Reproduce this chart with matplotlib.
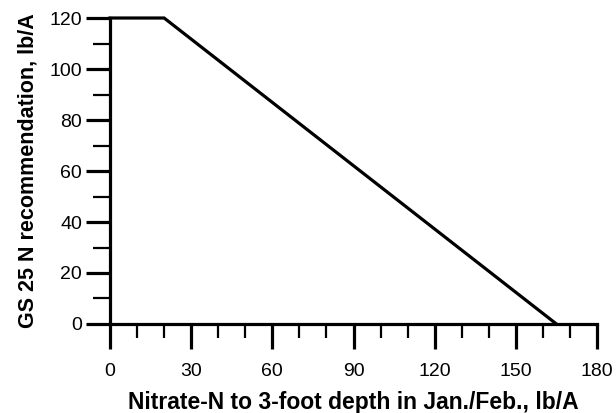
import matplotlib.pyplot as plt
from matplotlib.ticker import MultipleLocator

# Data: N recommendation vs soil nitrate
nitrate = [0, 20, 165]
rec = [120, 120, 0]

plt.rcParams['font.family'] = ['Liberation Sans', 'DejaVu Sans']

fig = plt.figure(figsize=(6.16, 4.13), dpi=100)
ax = fig.add_axes([0.1786, 0.2155, 0.7906, 0.7409])

ax.plot(nitrate, rec, color='black', lw=2.3, clip_on=False, solid_joinstyle='miter')

ax.set_xlim(0, 180)
ax.set_ylim(0, 120)
ax.xaxis.set_major_locator(MultipleLocator(30))
ax.xaxis.set_minor_locator(MultipleLocator(10))
ax.yaxis.set_major_locator(MultipleLocator(20))
ax.yaxis.set_minor_locator(MultipleLocator(10))

for s in ['top', 'right']:
    ax.spines[s].set_visible(False)
for s in ['left', 'bottom']:
    ax.spines[s].set_linewidth(2.3)

ax.tick_params(axis='x', which='major', direction='out', length=18, width=2.3, pad=10, labelsize=14)
ax.tick_params(axis='x', which='minor', direction='out', length=10, width=1.6)
ax.tick_params(axis='y', which='major', direction='out', length=17, width=2.3, pad=3, labelsize=14)
ax.tick_params(axis='y', which='minor', direction='out', length=12, width=1.6)

ax.set_xlabel('Nitrate-N to 3-foot depth in Jan./Feb., lb/A', fontsize=16.5, fontweight='bold', labelpad=8)
ax.set_ylabel('GS 25 N recommendation, lb/A', fontsize=15.5, fontweight='bold', labelpad=8)

fig.savefig('out.png', dpi=100)
